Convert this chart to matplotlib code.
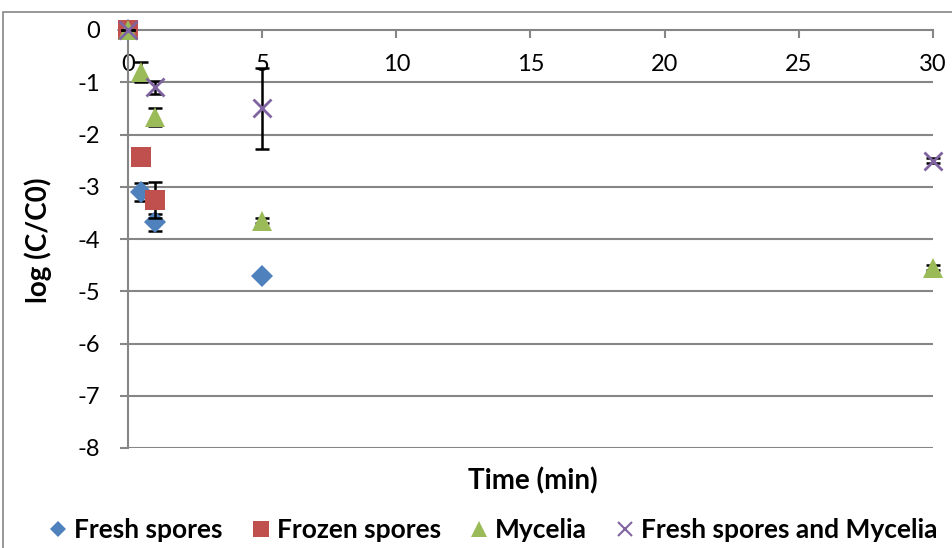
import numpy as np
import matplotlib.pyplot as plt
from matplotlib.lines import Line2D
from matplotlib.patches import Rectangle

plt.rcParams["font.family"] = ["Lato", "DejaVu Sans"]

# --------------------------------------------------
# Data: log reduction over time
# --------------------------------------------------

fresh_t = [0, 0.5, 1, 5]
fresh_y = [0, -3.1, -3.68, -4.7]
fresh_err = [0, 0.18, 0.16, 0]

frozen_t = [0, 0.5, 1]
frozen_y = [0, -2.43, -3.25]
frozen_err = [0, 0, 0.35]

myc_t = [0, 0.5, 1, 5, 30]
myc_y = [0, -0.8, -1.66, -3.65, -4.55]
myc_err = [0, 0.19, 0.17, 0.05, 0.05]

mix_t = [0, 1, 5, 30]
mix_y = [0, -1.1, -1.5, -2.5]
mix_err = [0, 0.13, 0.78, 0.05]

x_ticks = [0, 5, 10, 15, 20, 25, 30]
y_ticks = [0, -1, -2, -3, -4, -5, -6, -7, -8]

series = [
    ("Fresh spores", fresh_t, fresh_y, fresh_err, "D", 11, "#4F81BD"),
    ("Frozen spores", frozen_t, frozen_y, frozen_err, "s", 15, "#C0504D"),
    ("Mycelia", myc_t, myc_y, myc_err, "^", 15, "#9BBB59"),
    ("Fresh spores and Mycelia", mix_t, mix_y, mix_err, "x", 13, "#8064A2"),
]

# --------------------------------------------------
# Figure
# --------------------------------------------------

fig = plt.figure(figsize=(9.53, 5.48), dpi=100)
ax = fig.add_axes([128 / 953, 1 - 448 / 548, (933 - 128) / 953, (448 - 30) / 548])

grid_col = "#868686"

for i, (name, t, y, err, mk, ms, col) in enumerate(series):
    ax.errorbar(t, y, yerr=err, fmt="none", ecolor="black", elinewidth=1.8,
                capsize=5, capthick=1.8, zorder=3 + i, clip_on=False)
    ax.plot(t, y, linestyle="none", marker=mk, markersize=ms, color=col,
            markeredgewidth=2 if mk == "x" else 0, zorder=3 + i, clip_on=False)

ax.set_xlim(0, 30)
ax.set_ylim(-8, 0)
ax.set_xticks(x_ticks)
ax.set_yticks(y_ticks)
ax.set_yticklabels([str(v) for v in y_ticks])

for v in y_ticks[1:]:
    ax.axhline(v, color=grid_col, linewidth=1.5, zorder=1)

ax.spines["bottom"].set_position(("data", 0))
ax.spines["top"].set_visible(False)
ax.spines["right"].set_visible(False)
for s in ["bottom", "left"]:
    ax.spines[s].set_color(grid_col)
    ax.spines[s].set_linewidth(1.5)

ax.tick_params(axis="x", direction="out", length=6, width=1.5, color=grid_col,
               pad=11, labelsize=17)
ax.tick_params(axis="y", direction="out", length=6, width=1.5, color=grid_col,
               pad=14, labelsize=17)

fig.text(38 / 953, 1 - 240 / 548, "log (C/C0)", rotation=90, ha="center",
         va="center", fontsize=20, fontweight="bold")
fig.text(533 / 953, 1 - 481 / 548, "Time (min)", ha="center", va="center",
         fontsize=20, fontweight="bold")

# --------------------------------------------------
# Legend
# --------------------------------------------------

handles = [
    Line2D([], [], linestyle="none", marker=mk, markersize=ms * 0.75, color=col,
           markeredgewidth=1.5 if mk == "x" else 0)
    for (_, _, _, _, mk, ms, col) in series
]
labels = [s[0] for s in series]
fig.legend(handles, labels, loc="center", bbox_to_anchor=(0.517, 1 - 530 / 548),
           ncol=4, frameon=False, prop={"size": 19, "weight": "bold"},
           handletextpad=0.2, columnspacing=1.05, handlelength=0.8)

# chart border
fig.add_artist(Rectangle((3 / 953, -0.1), 1.2, 1 - 12 / 548 + 0.1,
                         transform=fig.transFigure, fill=False,
                         edgecolor=grid_col, linewidth=1.2))

fig.savefig("out.png", dpi=100)
